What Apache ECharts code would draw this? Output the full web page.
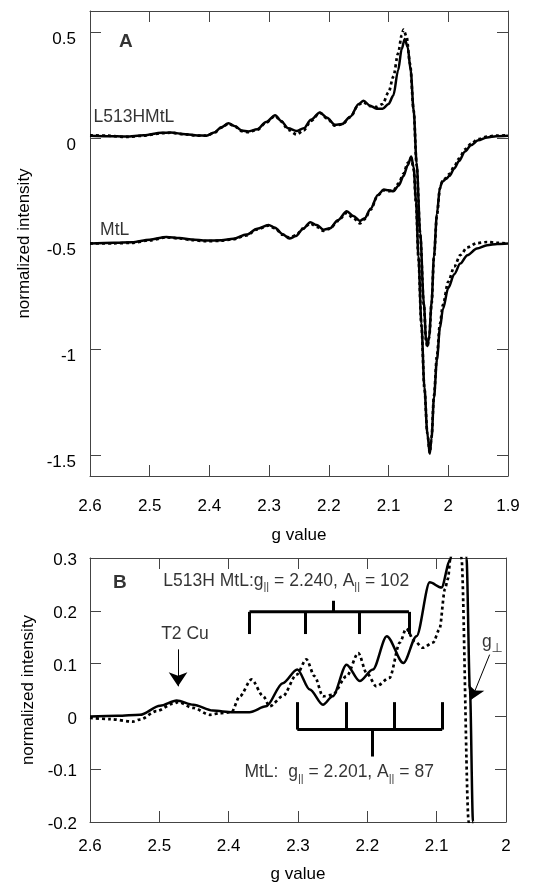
<!DOCTYPE html>
<html>
<head>
<meta charset="utf-8">
<title>EPR spectra: L513H MtL and MtL</title>
<script src="https://cdn.jsdelivr.net/npm/echarts@6/dist/echarts.min.js"></script>
<style>html,body{margin:0;padding:0;background:#fff;}</style>
</head>
<body>
<div id="main" style="width:543px;height:882px;"></div>
<script>
// ---- data: [g value, normalized intensity] ----

// panel A, L513HMtL (offset near 0)
var aL513H = [[2.600,0.010],[2.570,0.008],[2.540,0.006],[2.510,0.012],[2.480,0.024],[2.465,0.025],[2.440,0.017],[2.420,0.011],[2.405,0.010],[2.392,0.025],[2.380,0.050],[2.368,0.069],[2.357,0.055],[2.346,0.035],[2.335,0.030],[2.320,0.040],[2.305,0.075],[2.290,0.107],[2.280,0.080],[2.268,0.045],[2.254,0.032],[2.242,0.045],[2.230,0.085],[2.215,0.120],[2.203,0.095],[2.190,0.062],[2.178,0.065],[2.164,0.100],[2.150,0.160],[2.142,0.175],[2.131,0.152],[2.120,0.138],[2.110,0.137],[2.100,0.160],[2.092,0.200],[2.084,0.320],[2.078,0.420],[2.073,0.468],[2.068,0.430],[2.063,0.320],[2.058,0.130],[2.053,-0.120],[2.047,-0.450],[2.041,-0.780],[2.037,-0.960],[2.035,-0.985],[2.032,-0.940],[2.028,-0.780],[2.024,-0.560],[2.019,-0.360],[2.014,-0.235],[2.010,-0.208],[2.004,-0.195],[1.998,-0.180],[1.990,-0.145],[1.982,-0.110],[1.972,-0.065],[1.962,-0.035],[1.950,-0.012],[1.935,0.002],[1.920,0.008],[1.900,0.010]];
var aL513HDot = [[2.600,0.012],[2.570,0.010],[2.540,0.004],[2.510,0.010],[2.480,0.022],[2.465,0.024],[2.440,0.016],[2.420,0.010],[2.405,0.010],[2.392,0.024],[2.380,0.048],[2.368,0.067],[2.357,0.053],[2.346,0.032],[2.335,0.027],[2.320,0.038],[2.305,0.072],[2.290,0.104],[2.280,0.078],[2.268,0.038],[2.254,0.016],[2.242,0.035],[2.230,0.080],[2.215,0.118],[2.203,0.092],[2.190,0.058],[2.178,0.063],[2.164,0.098],[2.150,0.158],[2.142,0.168],[2.131,0.150],[2.120,0.146],[2.110,0.160],[2.100,0.215],[2.092,0.290],[2.084,0.400],[2.078,0.485],[2.075,0.512],[2.070,0.480],[2.064,0.350],[2.058,0.130],[2.053,-0.130],[2.047,-0.460],[2.041,-0.790],[2.037,-0.965],[2.035,-0.990],[2.032,-0.945],[2.028,-0.785],[2.024,-0.565],[2.019,-0.365],[2.014,-0.240],[2.010,-0.205],[2.004,-0.190],[1.998,-0.170],[1.990,-0.135],[1.982,-0.098],[1.972,-0.055],[1.962,-0.028],[1.950,-0.006],[1.935,0.006],[1.920,0.010],[1.900,0.012]];

// panel A, MtL (offset near -0.5)
var aMtL = [[2.600,-0.500],[2.560,-0.497],[2.530,-0.494],[2.500,-0.482],[2.472,-0.469],[2.450,-0.474],[2.430,-0.481],[2.405,-0.486],[2.380,-0.485],[2.360,-0.478],[2.338,-0.458],[2.320,-0.430],[2.301,-0.412],[2.290,-0.425],[2.278,-0.455],[2.266,-0.476],[2.255,-0.465],[2.244,-0.432],[2.231,-0.400],[2.220,-0.413],[2.209,-0.435],[2.198,-0.428],[2.185,-0.390],[2.170,-0.348],[2.159,-0.370],[2.148,-0.393],[2.140,-0.380],[2.130,-0.335],[2.118,-0.270],[2.108,-0.245],[2.100,-0.248],[2.092,-0.253],[2.083,-0.225],[2.075,-0.181],[2.068,-0.130],[2.062,-0.088],[2.058,-0.140],[2.054,-0.300],[2.050,-0.560],[2.045,-0.880],[2.040,-1.180],[2.035,-1.400],[2.031,-1.495],[2.028,-1.420],[2.024,-1.230],[2.019,-1.050],[2.014,-0.900],[2.009,-0.810],[2.000,-0.710],[1.990,-0.645],[1.980,-0.595],[1.968,-0.555],[1.952,-0.524],[1.935,-0.508],[1.918,-0.502],[1.900,-0.500]];
var aMtLDot = [[2.600,-0.500],[2.560,-0.499],[2.530,-0.497],[2.500,-0.485],[2.472,-0.471],[2.450,-0.476],[2.430,-0.484],[2.405,-0.489],[2.380,-0.487],[2.360,-0.480],[2.338,-0.462],[2.320,-0.433],[2.301,-0.415],[2.290,-0.428],[2.278,-0.458],[2.266,-0.472],[2.255,-0.461],[2.244,-0.430],[2.231,-0.405],[2.220,-0.422],[2.209,-0.440],[2.198,-0.430],[2.185,-0.393],[2.170,-0.355],[2.159,-0.380],[2.148,-0.405],[2.140,-0.385],[2.130,-0.340],[2.118,-0.272],[2.108,-0.248],[2.100,-0.252],[2.092,-0.250],[2.083,-0.215],[2.075,-0.170],[2.068,-0.120],[2.062,-0.095],[2.058,-0.150],[2.054,-0.310],[2.050,-0.570],[2.045,-0.890],[2.040,-1.185],[2.035,-1.400],[2.031,-1.490],[2.028,-1.415],[2.024,-1.220],[2.019,-1.030],[2.014,-0.880],[2.009,-0.790],[2.000,-0.680],[1.990,-0.610],[1.980,-0.555],[1.968,-0.518],[1.952,-0.498],[1.935,-0.493],[1.918,-0.497],[1.900,-0.500]];

// panel B, expanded g|| region
var bMtL = [[2.600,0.000],[2.560,0.001],[2.528,0.003],[2.499,0.020],[2.475,0.030],[2.451,0.022],[2.423,0.011],[2.394,0.008],[2.370,0.008],[2.346,0.019],[2.322,0.063],[2.301,0.089],[2.283,0.051],[2.264,0.022],[2.250,0.038],[2.230,0.098],[2.211,0.067],[2.192,0.089],[2.172,0.152],[2.148,0.101],[2.129,0.152],[2.110,0.254],[2.093,0.244],[2.081,0.295],[2.075,0.330],[2.068,0.380],[2.062,0.410],[2.059,0.360],[2.057,0.300],[2.052,0.050],[2.0476,-0.200],[2.044,-0.450]];
var bL513H = [[2.600,-0.003],[2.572,-0.005],[2.538,-0.010],[2.528,-0.006],[2.504,0.010],[2.480,0.024],[2.473,0.027],[2.451,0.016],[2.427,0.003],[2.413,0.006],[2.396,0.008],[2.384,0.038],[2.367,0.070],[2.350,0.038],[2.341,0.019],[2.322,0.038],[2.302,0.079],[2.288,0.108],[2.276,0.076],[2.264,0.038],[2.250,0.041],[2.230,0.076],[2.213,0.120],[2.201,0.082],[2.187,0.057],[2.168,0.073],[2.153,0.140],[2.144,0.166],[2.132,0.143],[2.120,0.130],[2.105,0.140],[2.096,0.165],[2.088,0.241],[2.084,0.260],[2.078,0.330],[2.072,0.450],[2.067,0.400],[2.0643,0.300],[2.0538,-0.200],[2.050,-0.400]];

// hyperfine stick positions (g) and their centre
var l513hLines = [2.370, 2.290, 2.212, 2.140];
var l513hCentre = 2.249;
var mtlLines = [2.301, 2.230, 2.161, 2.092];
var mtlCentre = 2.193;

var aYTicks = [-1.5, -1, -0.5, 0, 0.5];

var FONT = '"Liberation Sans", Arial, sans-serif';
var AX = '#444';

function xAx(grid, min, max, pos, withLabels, margin, nameGap) {
    return {
        type: 'value', gridIndex: grid, position: pos, min: min, max: max, interval: 0.1, inverse: true,
        name: withLabels ? 'g value' : '', nameLocation: 'middle', nameGap: nameGap,
        nameTextStyle: {fontSize: 17, color: '#000', fontFamily: FONT},
        axisLine: {show: true, onZero: false, lineStyle: {color: AX, width: 1}},
        axisTick: {show: true, inside: true, length: 11, lineStyle: {color: AX, width: 1}},
        axisLabel: {show: withLabels, margin: margin, fontSize: 17, color: '#000', fontFamily: FONT},
        splitLine: {show: false}
    };
}

// y labels sit a little below their ticks in the figure, so push them down with a padded rich token
function yAx(grid, min, max, pos, withLabels, opts) {
    var a = {
        type: 'value', gridIndex: grid, position: pos, min: min, max: max,
        name: withLabels ? 'normalized intensity' : '', nameLocation: 'middle', nameGap: opts.nameGap,
        nameTextStyle: {fontSize: 17, color: '#000', fontFamily: FONT},
        axisLine: {show: true, onZero: false, lineStyle: {color: AX, width: 1}},
        axisTick: {show: true, inside: true, length: 11, lineStyle: {color: AX, width: 1}},
        axisLabel: {
            show: withLabels, margin: opts.margin, color: '#000',
            formatter: function (v) { return '{v|' + Number(v.toFixed(2)) + '}'; },
            rich: {v: {fontSize: 17, color: '#000', fontFamily: FONT, padding: [opts.shift || 0, 0, 0, 0]}}
        },
        splitLine: {show: false}
    };
    if (opts.ticks) {
        a.axisTick.customValues = opts.ticks;
        a.axisLabel.customValues = opts.ticks;
    } else {
        a.interval = opts.interval;
    }
    return a;
}

function curve(data, xi, yi, dotted, dash) {
    return {
        type: 'line', xAxisIndex: xi, yAxisIndex: yi, data: data,
        symbol: 'none', smooth: 0.3, smoothMonotone: 'x', silent: true, z: dotted ? 2 : 3,
        lineStyle: {color: '#000', width: dotted ? 2.7 : 2.5, type: dotted ? dash : 'solid'}
    };
}

// comb of hyperfine sticks: a bar with drops to each line and a tick at the centre
function comb(lines, centre, yBar, yTip, yCentre) {
    var segs = lines.map(function (g) {
        return [{coord: [g, yBar]}, {coord: [g, yTip]}];
    });
    segs.push([{coord: [centre, yBar]}, {coord: [centre, yCentre]}]);
    return {
        type: 'line', xAxisIndex: 2, yAxisIndex: 2, symbol: 'none', silent: true, z: 4,
        data: [[lines[0], yBar], [lines[lines.length - 1], yBar]],
        lineStyle: {color: '#000', width: 3},
        markLine: {
            silent: true, symbol: ['none', 'none'], animation: false,
            label: {show: false},
            lineStyle: {color: '#000', width: 3, type: 'solid'},
            emphasis: {disabled: true},
            data: segs
        }
    };
}

function arrow(from, to, size) {
    return {
        type: 'line', xAxisIndex: 2, yAxisIndex: 2, data: [], silent: true, z: 5,
        markLine: {
            silent: true, symbol: ['none', 'arrow'], symbolSize: size, animation: false,
            label: {show: false},
            lineStyle: {color: '#000', width: 1, type: 'solid'},
            itemStyle: {color: '#000'},
            emphasis: {disabled: true},
            data: [[{coord: from}, {coord: to}]]
        }
    };
}

function text(xi, yi, pos, str, pt, extra) {
    var lab = {
        show: true, position: pt, distance: 0, formatter: str,
        fontSize: 17.5, color: '#000', fontFamily: FONT,
        rich: {
            s: {fontSize: 11, color: '#000', fontFamily: FONT, padding: [13, 0, 0, 0]},
            p: {fontSize: 13, color: '#000', fontFamily: '"DejaVu Sans", sans-serif', padding: [12, 0, 0, 0]}
        }
    };
    if (extra) { for (var k in extra) lab[k] = extra[k]; }
    return {
        type: 'scatter', xAxisIndex: xi, yAxisIndex: yi, silent: true, z: 6,
        symbolSize: 1, itemStyle: {color: 'rgba(0,0,0,0)'},
        data: [pos], label: lab
    };
}

var chart = echarts.init(document.getElementById('main'));

var option = {
    animation: false,
    backgroundColor: '#fff',
    grid: [
        {left: 90, top: 11, right: 35, bottom: 406, outerBoundsMode: 'none'},
        {left: 90, top: 558, right: 37, bottom: 60, outerBoundsMode: 'none'}
    ],
    xAxis: [
        xAx(0, 1.9, 2.6, 'bottom', true, 22, 51),
        xAx(0, 1.9, 2.6, 'top', false, 0, 0),
        xAx(1, 2.0, 2.6, 'bottom', true, 16, 44),
        xAx(1, 2.0, 2.6, 'top', false, 0, 0)
    ],
    yAxis: [
        yAx(0, -1.6, 0.6, 'left', true, {ticks: aYTicks, margin: 14, shift: 14, nameGap: 57}),
        yAx(0, -1.6, 0.6, 'right', false, {ticks: aYTicks, margin: 0, nameGap: 0}),
        yAx(1, -0.2, 0.3, 'left', true, {interval: 0.1, margin: 13, shift: 5, nameGap: 49}),
        yAx(1, -0.2, 0.3, 'right', false, {interval: 0.1, margin: 0, nameGap: 0})
    ],
    series: [
        curve(aL513HDot, 0, 0, true, [3, 3]),
        curve(aMtLDot, 0, 0, true, [3, 3]),
        curve(aL513H, 0, 0, false),
        curve(aMtL, 0, 0, false),
        curve(bL513H, 2, 2, true, [3, 3]),
        curve(bMtL, 2, 2, false),
        comb(l513hLines, l513hCentre, 0.198, 0.156, 0.219),
        comb(mtlLines, mtlCentre, -0.025, 0.027, -0.076),
        arrow([2.473, 0.127], [2.473, 0.057], 14),
        arrow([2.0236, 0.117], [2.0499, 0.032], 13),
        text(0, 0, [2.540, 0.455], 'A', 'inside', {fontWeight: 'bold', fontSize: 19}),
        text(0, 0, [2.595, 0.096], 'L513HMtL', 'right'),
        text(0, 0, [2.584, -0.435], 'MtL', 'right'),
        text(2, 2, [2.557, 0.254], 'B', 'inside', {fontWeight: 'bold', fontSize: 19}),
        text(2, 2, [2.495, 0.257], 'L513H MtL:g{s|||} = 2.240, A{s|||} = 102', 'right'),
        text(2, 2, [2.463, 0.155], 'T2 Cu', 'inside'),
        text(2, 2, [2.378, -0.106], 'MtL:  g{s|||} = 2.201, A{s|||} = 87', 'right'),
        text(2, 2, [2.0355, 0.14], 'g{p|\u22a5}', 'right')
    ]
};

chart.setOption(option);
</script>
</body>
</html>
